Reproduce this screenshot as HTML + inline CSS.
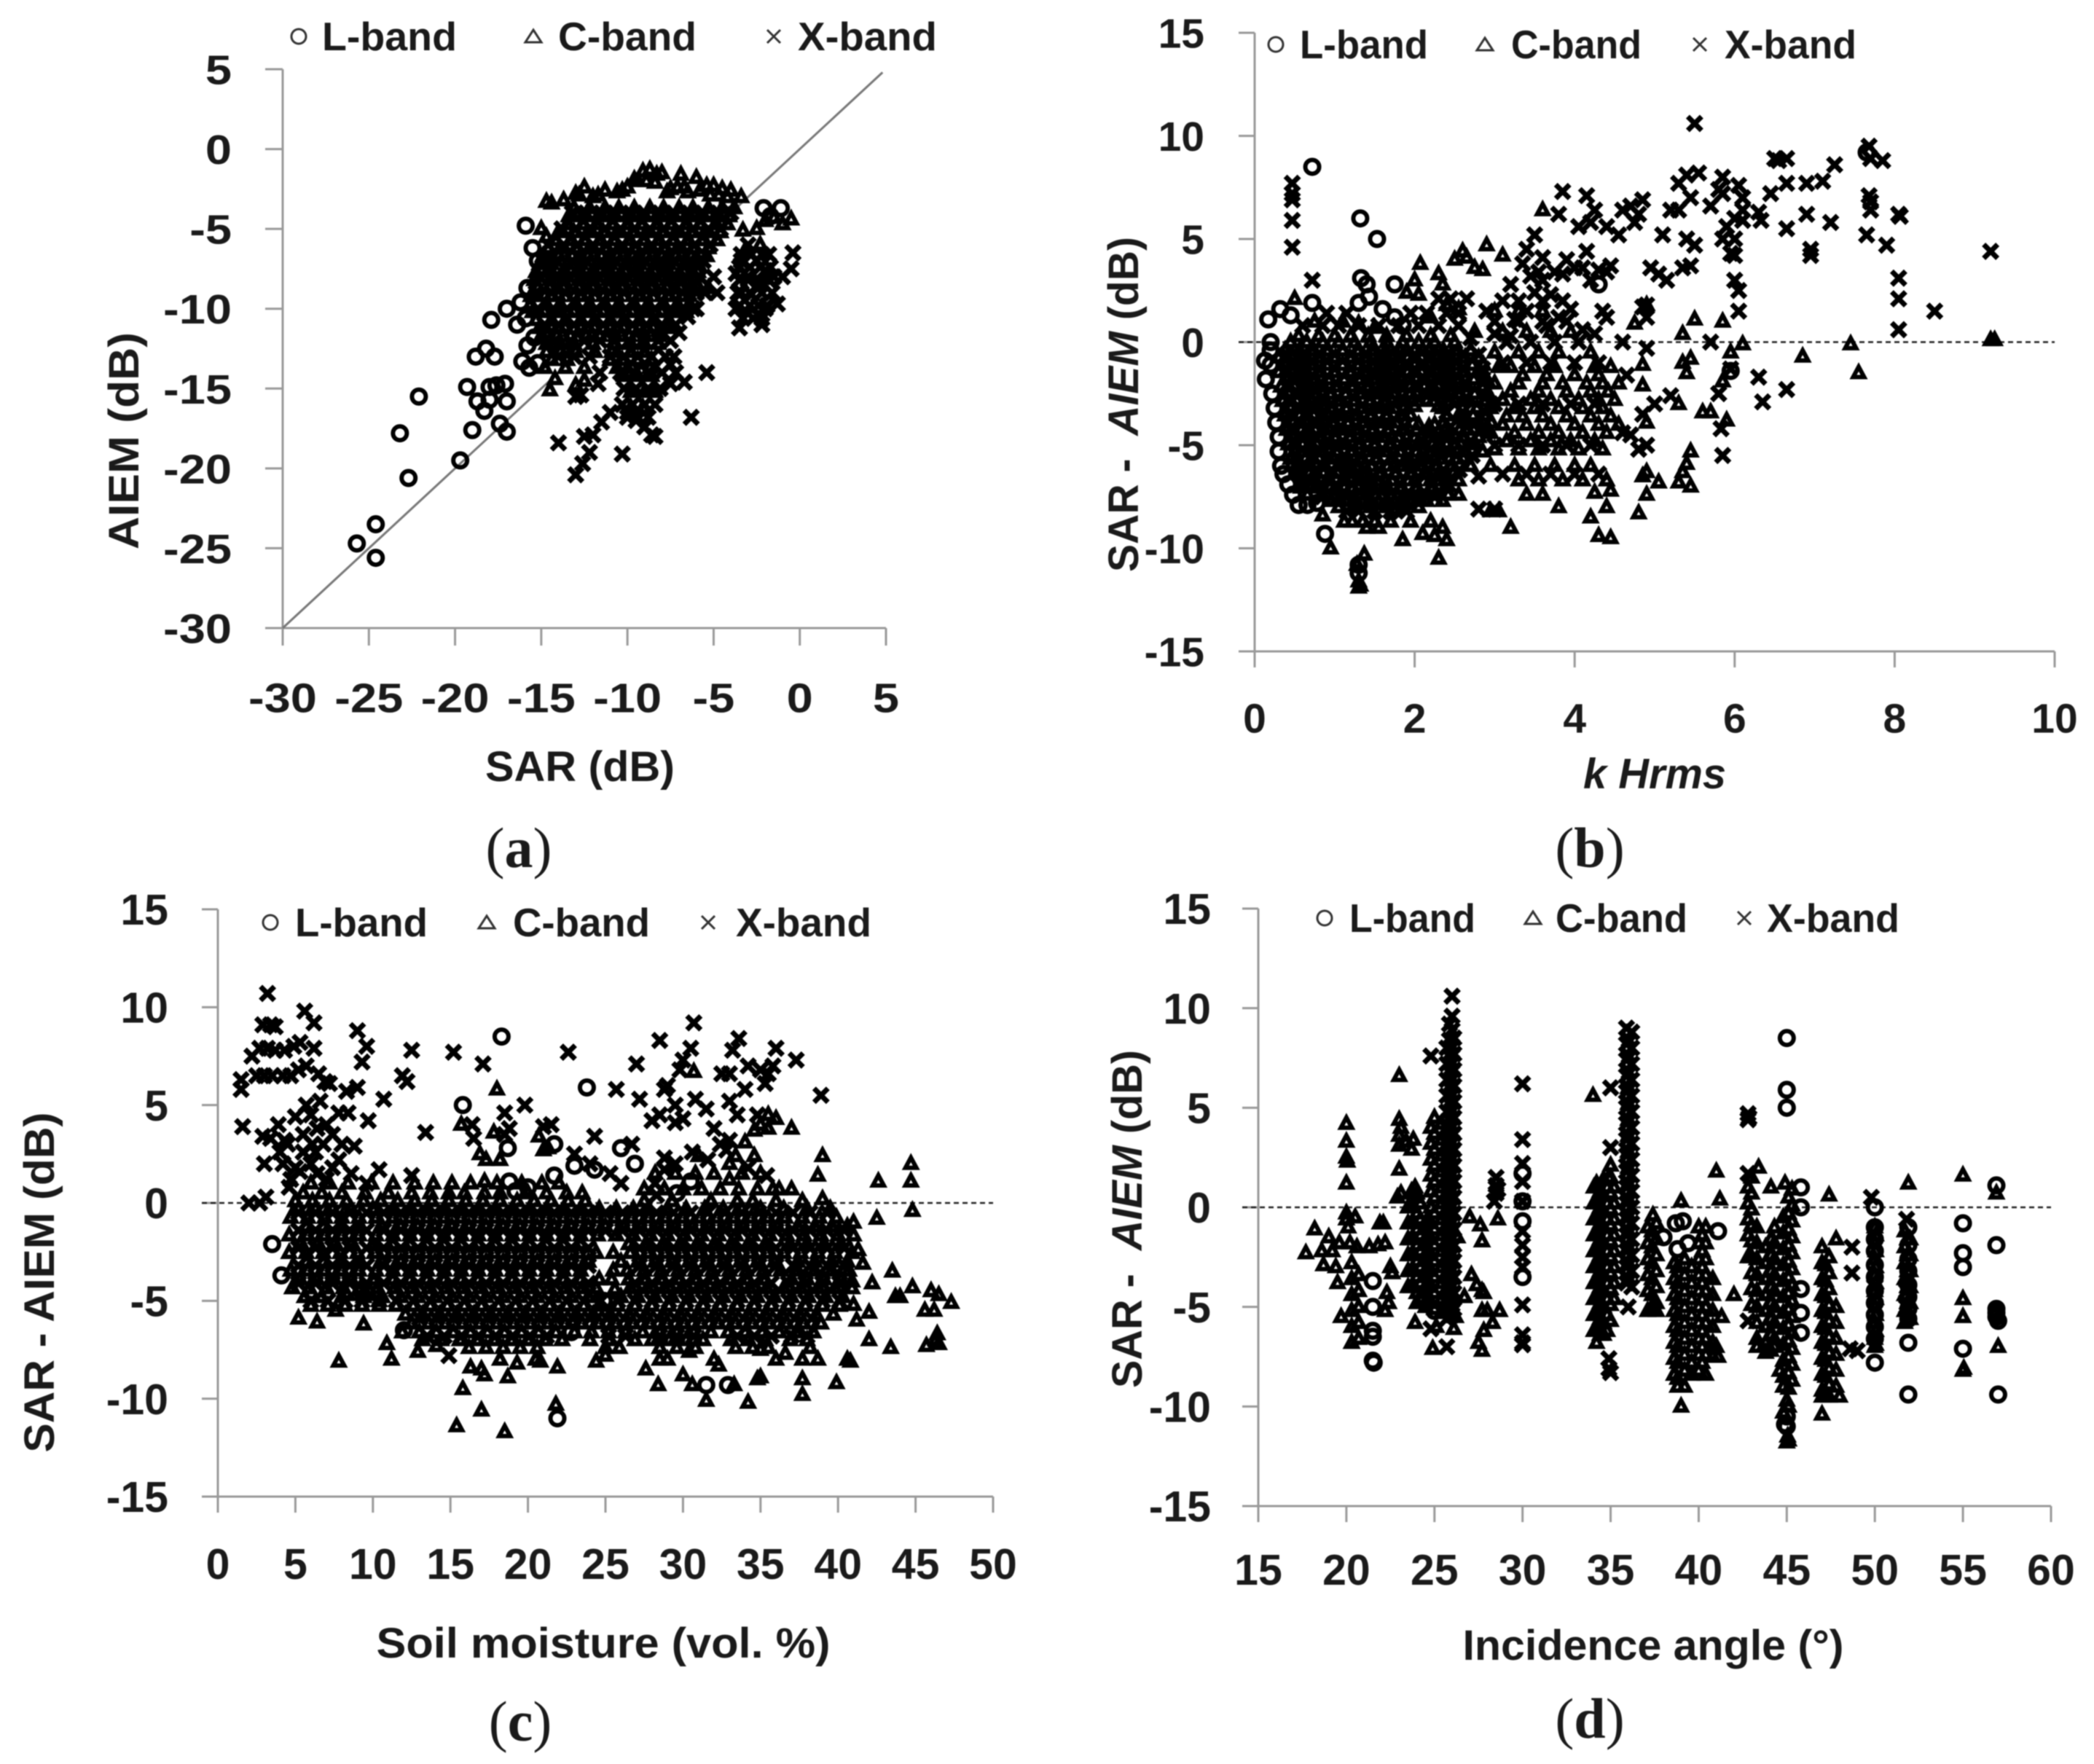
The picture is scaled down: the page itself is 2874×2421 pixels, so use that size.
<!DOCTYPE html>
<html lang="en">
<head>
<meta charset="utf-8">
<title>SAR vs AIEM scatter panels</title>
<style>
html,body{margin:0;padding:0;background:#fff;width:2874px;height:2421px;overflow:hidden}
svg{display:block;filter:blur(.8px)}
text{font-family:"Liberation Sans",sans-serif;fill:#1a1a1a;font-weight:bold}
.lg{font-size:55px}
.ti{font-size:58px}
.pl{font-family:"Liberation Serif",serif;font-size:78px;font-weight:normal}
.pl tspan.b{font-weight:bold}
.mk{fill:none;stroke:#333;stroke-width:3}
</style>
</head>
<body>
<svg id="figure" xmlns="http://www.w3.org/2000/svg" width="2874" height="2421" viewBox="0 0 2874 2421">
<rect width="2874" height="2421" fill="#fff"/>

<g id="panel-a">
  <circle class="mk" cx="410" cy="50" r="10"/>
  <text class="lg" x="442" y="69" textLength="185" lengthAdjust="spacingAndGlyphs">L-band</text>
  <path class="mk" d="M732 41L743 58H721Z"/>
  <text class="lg" x="766" y="69" textLength="190" lengthAdjust="spacingAndGlyphs">C-band</text>
  <path class="mk" d="M1053 41L1071 59M1071 41L1053 59"/>
  <text class="lg" x="1095" y="69" textLength="191" lengthAdjust="spacingAndGlyphs">X-band</text>
  <text class="ti" x="796" y="1072" text-anchor="middle" textLength="260" lengthAdjust="spacingAndGlyphs">SAR (dB)</text>
  <text class="ti" transform="translate(190,605) rotate(-90)" text-anchor="middle" textLength="298" lengthAdjust="spacingAndGlyphs">AIEM (dB)</text>
  <text class="pl" x="712" y="1190" text-anchor="middle">(<tspan class="b">a</tspan>)</text>
</g>

<g id="panel-b">
  <circle class="mk" cx="1751" cy="61" r="10"/>
  <text class="lg" x="1784" y="80" textLength="176" lengthAdjust="spacingAndGlyphs">L-band</text>
  <path class="mk" d="M2038 52L2049 69H2027Z"/>
  <text class="lg" x="2074" y="80" textLength="179" lengthAdjust="spacingAndGlyphs">C-band</text>
  <path class="mk" d="M2324 52L2342 70M2342 52L2324 70"/>
  <text class="lg" x="2367" y="80" textLength="181" lengthAdjust="spacingAndGlyphs">X-band</text>
  <text class="ti" x="2271" y="1082" text-anchor="middle" font-style="italic" textLength="196" lengthAdjust="spacingAndGlyphs">k Hrms</text>
  <text class="ti" transform="translate(1562,555) rotate(-90)" text-anchor="middle" textLength="460" lengthAdjust="spacingAndGlyphs" xml:space="preserve">SAR -  <tspan font-style="italic">AIEM</tspan> (dB)</text>
  <text class="pl" x="2182" y="1190" text-anchor="middle">(<tspan class="b">b</tspan>)</text>
</g>

<g id="panel-c">
  <circle class="mk" cx="371" cy="1266" r="10"/>
  <text class="lg" x="405" y="1285" textLength="182" lengthAdjust="spacingAndGlyphs">L-band</text>
  <path class="mk" d="M668 1257L679 1274H657Z"/>
  <text class="lg" x="704" y="1285" textLength="188" lengthAdjust="spacingAndGlyphs">C-band</text>
  <path class="mk" d="M963 1257L981 1275M981 1257L963 1275"/>
  <text class="lg" x="1010" y="1285" textLength="186" lengthAdjust="spacingAndGlyphs">X-band</text>
  <text class="ti" x="828" y="2275" text-anchor="middle" textLength="623" lengthAdjust="spacingAndGlyphs">Soil moisture (vol. %)</text>
  <text class="ti" transform="translate(74,1760) rotate(-90)" text-anchor="middle" textLength="467" lengthAdjust="spacingAndGlyphs">SAR - AIEM (dB)</text>
  <text class="pl" x="714" y="2389" text-anchor="middle">(<tspan class="b">c</tspan>)</text>
</g>

<g id="panel-d">
  <circle class="mk" cx="1818" cy="1260" r="10"/>
  <text class="lg" x="1852" y="1279" textLength="173" lengthAdjust="spacingAndGlyphs">L-band</text>
  <path class="mk" d="M2104 1251L2115 1268H2093Z"/>
  <text class="lg" x="2135" y="1279" textLength="181" lengthAdjust="spacingAndGlyphs">C-band</text>
  <path class="mk" d="M2385 1251L2403 1269M2403 1251L2385 1269"/>
  <text class="lg" x="2425" y="1279" textLength="182" lengthAdjust="spacingAndGlyphs">X-band</text>
  <text class="ti" x="2269" y="2278" text-anchor="middle" textLength="523" lengthAdjust="spacingAndGlyphs">Incidence angle (°)</text>
  <text class="ti" transform="translate(1567,1673) rotate(-90)" text-anchor="middle" textLength="464" lengthAdjust="spacingAndGlyphs" xml:space="preserve">SAR -  <tspan font-style="italic">AIEM</tspan> (dB)</text>
  <text class="pl" x="2182" y="2385" text-anchor="middle">(<tspan class="b">d</tspan>)</text>
</g>
</svg>

<script>
/* ---------- tick labels ---------- */
const aXTicks = [-30,-25,-20,-15,-10,-5,0,5];
const aYTicks = [-30,-25,-20,-15,-10,-5,0,5];
const bXTicks = [0,2,4,6,8,10];
const bYTicks = [-15,-10,-5,0,5,10,15];
const cXTicks = [0,5,10,15,20,25,30,35,40,45,50];
const cYTicks = [-15,-10,-5,0,5,10,15];
const dXTicks = [15,20,25,30,35,40,45,50,55,60];
const dYTicks = [-15,-10,-5,0,5,10,15];

/* ---------- panel a: [SAR, AIEM] ---------- */
const aLband = [[-25.7,-24.7],[-24.6,-23.5],[-24.6,-25.6],[-22.7,-20.6],[-23.2,-17.8],[-22.1,-15.5],[-19.7,-19.5],[-19,-17.6],[-19.3,-14.9],[-18.8,-13],[-18.2,-12.5],[-17.7,-13],[-18.7,-15.8],[-18.3,-16.4],[-18,-15.7],[-18,-14.9],[-17.6,-14.8],[-17.1,-14.7],[-17.4,-17.2],[-17,-17.7],[-17,-15.8],[-17.9,-10.7],[-17,-10],[-16.4,-11],[-15.9,-4.8],[-15.5,-6.2],[-15.2,-7],[-15.8,-8.7],[-16.1,-13.3],[-15.7,-13.7],[-15.8,-12.3],[-15.2,-13.4],[-2.1,-3.7],[-1.1,-3.7],[-1.7,-4.2],[-16.2,-9.6],[-15.9,-10.6],[-15.4,-11.8]];
const aCband = [[-14.7,-3.3],[-14.4,-3.4],[-13.7,-3.2],[-13,-2.8],[-12.5,-2.4],[-12,-3],[-11.3,-2.6],[-10.6,-2.7],[-10,-2.4],[-9.6,-1.9],[-9.1,-1.4],[-8.7,-1.3],[-8.3,-1.6],[-8,-1.5],[-7.5,-2.5],[-6.9,-1.6],[-6.5,-2.7],[-6,-1.8],[-5.4,-2.3],[-5,-2.3],[-4.5,-2.5],[-4,-2.6],[-3.4,-3],[-14.5,-15.1],[-14.2,-14.4],[-13,-14.8],[-12.5,-14.5],[-2,-4.5],[-1.5,-4.3],[-0.5,-4.4],[-1,-4.7],[-2.5,-5],[-2.3,-6],[-15,-5],[-14.7,-5.5],[-3.2,-6.4],[-3.3,-5.1],[-12.8,-2.9],[-11.7,-2.9],[-10.3,-2.6],[-9.4,-2],[-8.9,-2],[-8.4,-2.1],[-7.7,-2.7],[-7.1,-2.4],[-6.7,-2.4],[-5.8,-2.6],[-5.2,-2.9],[-4.7,-2.9],[-4.2,-3]];
const aCbandRows = [
[-3.7,-13.1,-12.2,-11.3,-10.5,-9.6,-8.7,-7.9,-7,-6.2,-5.3,-4.5,-3.8],
[-4.7,-13.5,-12.6,-11.8,-10.9,-10,-9.2,-8.3,-7.5,-6.6,-5.8,-4.9,-4.2],
[-5.7,-14.2,-13.3,-12.5,-11.6,-10.8,-9.9,-9,-8.2,-7.3,-6.5,-5.6,-4.8],
[-6.7,-14.9,-14,-13.2,-12.3,-11.5,-10.6,-9.7,-8.9,-8,-7.2,-6.3,-5.4],
[-7.7,-15.3,-14.4,-13.6,-12.7,-11.9,-11,-10.1,-9.3,-8.4,-7.6,-6.7,-5.9],
[-8.7,-15.2,-14.5,-13.7,-12.8,-12,-11.1,-10.3,-9.4,-8.6,-7.7,-6.9,-6.2,-5.3],
[-9.7,-15.6,-14.7,-13.9,-13,-12.2,-11.3,-10.5,-9.6,-8.8,-7.9,-7.1,-6.4],
[-10.7,-15.3,-14.4,-13.6,-12.7,-11.9,-11,-10.2,-9.3,-8.5,-7.6],
[-11.7,-15,-14.1,-13.3,-12.4,-11.6,-10.7,-9.9,-9,-8.2],
[-12.7,-14.7,-13.9,-13,-11.9,-10.9,-9.8,-9],
[-13.7,-14.8,-13.6,-12.5,-10.6,-9.7,-8.7],
[-4.2,-13.4,-12.6,-11.7,-10.9,-10,-9.2,-8.3,-7.5,-6.6,-5.8,-4.9,-4.1],
[-5.2,-14,-13.1,-12.3,-11.4,-10.6,-9.7,-8.9,-8,-7.2,-6.3,-5.5,-4.6],
[-6.2,-14.6,-13.9,-13,-12.2,-11.3,-10.5,-9.6,-8.8,-7.9,-7.1,-6.2,-5.3],
[-7.2,-15.1,-14.4,-13.5,-12.7,-11.8,-11,-10.1,-9.3,-8.4,-7.6,-6.7,-5.9],
[-8.2,-15.4,-14.5,-13.7,-12.8,-12,-11.1,-10.3,-9.4,-8.6,-7.7,-6.9,-6.1],
[-9.2,-15.6,-14.8,-14,-13.1,-12.3,-11.4,-10.6,-9.7,-8.9,-8,-7.2,-6.4],
[-10.2,-15.5,-14.8,-14,-13.1,-12.3,-11.4,-10.6,-9.7,-8.9,-8,-7.2,-6.6],
[-11.2,-15.1,-14.4,-13.6,-12.7,-11.9,-11,-10.2,-9.3,-8.5,-7.7],
[-12.2,-14.7,-13.9,-13.1,-12,-10.7,-9.8,-9,-8.2],
[-13.2,-14.4,-13.5,-11,-10.3,-9.4,-8.6],
[-14.2,-10.2,-9.4,-8.6],
[-15.2,-9.8,-9,-8.4],
[-16.2,-9.8,-9.1]];
const aXband = [[-0.4,-6.5],[-0.5,-7.5],[-1,-8],[-1.5,-8],[-1.3,-9.7],[-2,-10],[-2.2,-11],[-3,-10.3],[-3.5,-11.2],[-3.7,-10],[-3.6,-9],[-3,-8],[-2.5,-7],[-3.4,-7],[-2.3,-8.5],[-3.7,-7.8],[-2.8,-9.1],[-2,-7.6],[-1.8,-6.6],[-3,-6],[-5.4,-14],[-6.3,-16.8],[-10.3,-19.1],[-14,-18.4],[-13,-20.4],[-12.6,-19.7],[-12.2,-19],[-12.5,-18],[-12,-17.9],[-11.5,-17.1],[-11,-16.5],[-10,-16.5],[-9.5,-17],[-9,-17.4],[-8.6,-17.9],[-8.4,-18],[-7.5,-14.7],[-6.7,-14.6],[-7.5,-13.5],[-13,-15.5],[-12.7,-15.4],[-11.7,-14.7],[-7,-11.5],[-6.5,-10.5],[-6,-10],[-5.5,-9],[-4.8,-9],[-5,-8]];
const aXbandRows = [
[-4,-13.2,-12.4,-11.5,-10.7,-9.8,-9,-8.1,-7.3,-6.4,-5.6,-4.7,-4],
[-5,-13.8,-13,-12.1,-11.3,-10.4,-9.6,-8.7,-7.9,-7,-6.2,-5.3,-4.6],
[-6,-14.6,-13.7,-12.9,-12,-11.2,-10.3,-9.5,-8.6,-7.8,-6.9,-6.1,-5.2],
[-7,-14.9,-14.1,-13.2,-12.4,-11.5,-10.7,-9.8,-9,-8.1,-7.3,-6.4,-5.6],
[-8,-15.1,-14.2,-13.4,-12.5,-11.7,-10.8,-10,-9.1,-8.3,-7.4,-6.6,-5.8],
[-9,-15.3,-14.4,-13.6,-12.7,-11.9,-11,-10.2,-9.3,-8.5,-7.6,-6.8,-6],
[-10,-15.2,-14.3,-13.5,-12.6,-11.8,-10.9,-10.1,-9.2,-8.4,-7.5,-6.7,-6.2],
[-11,-14.8,-14,-13.1,-12.3,-11.4,-10.6,-9.7,-8.9,-8,-7.2],
[-12,-14.2,-13.3,-12.5,-11.6,-10.8,-9.9,-9.1,-8.2,-7.5],
[-13,-14,-13.1,-12.2,-11,-10.2,-9.4,-8.6,-7.8,-7.3],
[-14,-11.6,-10.4,-9.6,-8.8,-8,-7.2],
[-15,-10.2,-9.5,-8.8,-8.1],
[-16,-10.3,-9.7,-9,-8.4],
[-16.8,-10,-9.4,-8.8],
[-6.6,-3.4,-2.8,-2.2],
[-7.4,-3.5,-2.9,-2.3,-1.7],
[-8.2,-3.5,-3,-2.4,-1.8],
[-9,-3.4,-2.9,-2.2,-1.6],
[-9.8,-3.5,-2.9,-2.4,-1.9],
[-10.6,-3.3,-2.7,-2.2]];

/* ---------- panel b: [k Hrms, SAR-AIEM] ---------- */
const bLband = [[0.17,1.1],[0.32,1.6],[0.13,-0.9],[0.14,-1.8],[0.72,8.5],[1.32,6],[1.53,5],[1.75,2.8],[1.33,3.1],[1.4,2.8],[1.3,1.9],[1.43,2.2],[1.6,1.6],[0.72,1.9],[0.45,1.3],[0.2,0],[0.88,-9.3],[1.3,-10.8],[1.3,-11.2],[1.75,1.2],[1.85,0.8],[4.3,2.8],[5.95,-1.4],[7.65,9.2],[0.2,-0.4],[0.2,-1.1],[0.22,-2.5],[0.25,-3.2],[0.27,-3.9],[0.3,-4.6],[0.3,-5.3],[0.33,-6],[0.36,-6.4],[0.42,-6.9],[0.48,-7.4],[0.55,-7.9],[0.66,-7.9],[0.78,-7.8]];
const bCband = [[0.5,2.1],[2.07,3.8],[2,3],[2.05,2.3],[1.9,2.4],[2.3,3.3],[2.35,2.8],[2.6,4.4],[2.65,4.1],[2.5,4],[2.75,3.6],[2.85,3.5],[2.9,4.7],[3.1,4.2],[3.6,6.4],[0.75,1],[0.95,-10],[0.85,-8.4],[1.37,-10.3],[1.28,-10.8],[1.3,-11.9],[1.32,-11.8],[1.3,-11.6],[1.4,-9],[1.55,-9],[1.85,-9.6],[1.75,-8.2],[2.1,-9.3],[2.3,-10.5],[2.25,-9.4],[2.4,-9.6],[2.35,-9],[3.2,-9],[2.95,-8.2],[3.05,-8.2],[3.8,-8],[4.2,-8.5],[4.3,-9.4],[4.45,-9.5],[4.4,-8],[4.8,-8.3],[4.9,-7.4],[4.45,-7.2],[4.25,-7.3],[4.85,-6.5],[4.9,-6.3],[5.35,-6.3],[5.4,-5.9],[5.3,-6.8],[5.45,-7],[5.05,-6.8],[5.45,-5.3],[5.3,-3],[5.6,-3.4],[5.7,-3.4],[5.9,-3.8],[4.9,-3.9],[4.85,-2.1],[4.85,-1.1],[5.35,-1],[5.4,-1.5],[5.45,-0.8],[5.5,1.1],[5.35,0.4],[5.85,1],[4.9,1.8],[4.75,0.9],[6.1,-0.1],[5.95,-0.5],[5.85,-1.9],[7.45,-0.1],[7.55,-1.5],[6.85,-0.7],[9.2,0.1],[9.25,0.1],[2.4,1.8],[2.55,1.6],[2.2,1.2],[1.1,1],[1.3,0.9],[1.5,0.7],[2,-3.1],[2.25,-4],[2.18,-4.1],[2.3,-3.1],[2.05,-4]];
const bCbandRows = [
[0.3,.55,.8,1,1.2,1.42,1.65,1.9,2.2,2.45],
[-0.4,.38,.56,.74,.92,1.1,1.28,1.46,1.64,1.82,2,2.18,2.36,2.54,2.7],
[-1.1,.38,.56,.74,.92,1.1,1.28,1.46,1.64,1.82,2,2.18,2.36,2.54,2.72,2.86],
[-1.8,.4,.58,.76,.94,1.12,1.3,1.48,1.66,1.84,2.02,2.2,2.38,2.56,2.74,2.9],
[-2.5,.43,.6,.78,.96,1.13,1.31,1.49,1.67,1.85,2.03,2.21,2.39,2.57,2.75,2.92],
[-3.2,.45,.62,.8,.98,1.14,1.32,1.5,1.68,1.86,2.35,2.6,2.78,2.95],
[-3.9,.48,.65,.82,1,1.16,1.34,1.52,1.7,1.88,2.36,2.62,2.8,2.96],
[-4.6,.48,.66,.84,1.02,1.18,1.36,1.54,1.72,1.9,2.08,2.26,2.44,2.62,2.8],
[-5.3,.5,.68,.86,1.04,1.2,1.38,1.56,1.74,1.92,2.1,2.28,2.46,2.64,2.85],
[-6,.52,.7,.88,1.05,1.2,1.38,1.56,1.74,1.92,2.1,2.28,2.46,2.7],
[-6.7,.58,.76,.94,1.1,1.28,1.46,1.64,1.82,2,2.2,2.38,2.55],
[-7.4,.66,.84,1.02,1.15,1.33,1.51,1.69,1.87,2.05,2.25,2.42,2.55],
[-8,1.05,1.25,1.45,1.65,1.85,2.05],
[-8.7,1.12,1.22,1.35,1.5,1.7,1.95,2.2],
[0,.45,.65,.85,1.05,1.25,1.45,1.65,1.85,2.05,2.25,2.5],
[-0.75,.3,.47,.65,.83,1.01,1.19,1.37,1.55,1.73,1.91,2.09,2.27,2.45,2.63,2.8],
[-1.45,.3,.47,.65,.83,1.01,1.19,1.37,1.55,1.73,1.91,2.09,2.27,2.45,2.63,2.8],
[-2.15,.33,.5,.68,.86,1.04,1.22,1.4,1.58,1.76,1.94,2.12,2.3,2.48,2.66,2.84],
[-2.85,.35,.53,.71,.89,1.07,1.25,1.43,1.61,1.79,1.97,2.15,2.33,2.51,2.69,2.87],
[-3.55,.38,.56,.74,.92,1.1,1.28,1.46,1.64,1.82,1.95,2.4,2.55,2.73,2.9],
[-4.25,.4,.58,.76,.94,1.12,1.3,1.48,1.66,1.84,2.02,2.2,2.38,2.56,2.74,2.9],
[-4.95,.42,.6,.78,.96,1.14,1.32,1.5,1.68,1.86,2.04,2.22,2.4,2.58,2.76],
[-5.65,.45,.63,.81,.99,1.17,1.35,1.53,1.71,1.89,2.07,2.25,2.43,2.61],
[-6.35,.5,.68,.86,1.04,1.22,1.4,1.58,1.76,1.94,2.12,2.3,2.48],
[-7.05,.58,.76,.94,1.12,1.3,1.48,1.66,1.84,2.02,2.2,2.38],
[-7.7,.95,1.15,1.35,1.55,1.75,1.95,2.15,2.35],
[1.5,3,3.3,3.6],[0.5,2.75,3.1,3.4,3.7,3.95],[-0.5,3,3.3,3.55,3.8,4.2],[-1.2,3.05,3.2,3.5,3.75,4.25,4.45],[-2,3,3.3,3.6,3.85,4.15,4.35,4.55],[-2.8,3.1,3.45,3.7,4.05,4.3,4.5],[-3.6,3.15,3.35,3.6,3.9,4.2,4.45],[-4.4,2.95,3.25,3.55,3.8,4.1,4.4],[-5.2,3,3.3,3.55,3.8,4.05,4.35],[-6,2.95,3.25,3.5,3.75,4,4.2],[-6.7,3.3,3.55,3.85,4.1,4.4],[-7.4,3.4,3.6],
[-1.6,3.35,3.65,4,4.3],[-2.4,3.2,3.55,3.9,4.2,4.42],[-3.2,3.25,3.5,3.8,4.1,4.35],[-4,3.1,3.4,3.7,4,4.3,4.55],[-4.8,3.15,3.45,3.7,3.95,4.25]];
const bXband = [[0.47,7.7],[0.47,7.2],[0.47,6.9],[0.47,5.9],[0.47,4.6],[0.72,3],[5.5,10.6],[7.68,9.5],[7.7,8.9],[7.85,8.8],[7.68,7.1],[7.7,6.8],[7.7,6.4],[7.65,5.2],[7.9,4.7],[7.2,5.8],[7.25,8.6],[7.1,7.8],[6.9,7.7],[6.65,7.7],[6.5,8.9],[6.55,8.8],[6.65,8.9],[6.45,7.2],[6.65,5.5],[6.9,6.2],[6.95,4.5],[6.95,4.2],[8.05,6.2],[8.07,6.1],[8.05,3.1],[8.05,2.1],[8.05,0.6],[8.5,1.5],[9.2,4.4],[6.3,6.3],[6.33,5.9],[6.3,-1.7],[6.35,-2.9],[6.65,-2.3],[6.1,7],[2.55,1.4],[2.9,1.5],[3.1,2],[3.2,2.8],[3.35,3.8],[3.4,4.5],[3.5,5.2],[3.6,4.1],[3.7,2.3],[3.85,7.3],[3.8,6.2],[3.9,4],[4,3.6],[3.85,3.3],[4.15,7.1],[4.05,5.6],[4.25,6.4],[4.2,5.8],[4.4,5.6],[4.15,4.4],[4.1,3.6],[4.3,3.5],[4.4,3.4],[4.45,3.7],[4.35,1.5],[4.4,1.2],[4.1,0.6],[4.25,0.4],[4.55,5.2],[4.6,6.4],[4.7,6.6],[4.75,5.8],[4.85,6.9],[4.8,6.2],[4.85,1.7],[4.9,1.8],[4.9,1.2],[4.9,-0.3],[4.6,0],[4.95,3.6],[5.05,3.3],[5.15,3],[5.1,5.2],[5.2,6.4],[5.3,6.4],[5.35,3.6],[5.45,3.7],[5.4,5],[5.5,4.7],[5.3,7.7],[5.4,8.1],[5.55,8.2],[5.45,7],[5.7,6.6],[5.8,7.4],[5.85,8],[5.85,7.2],[5.9,5.6],[5.85,5],[5.95,4.3],[6.05,7.6],[6.1,6.4],[6,6],[6,5],[6,4.2],[6,3],[6.05,2.5],[6.05,1.5],[6.1,5.9],[5.8,-2.5],[5.83,-4.2],[5.85,-5.5],[5.95,-1.3],[5.7,0],[5.2,-2.6],[5,-3],[4.85,-3.5],[4.9,-5],[4.8,-5.2],[4.7,-4.5],[4.6,-4.4],[4.65,-1.6],[3,-8.1],[2.8,-8.1],[2.8,-6.5],[2.95,-3],[3.4,1.5],[3.65,0.8],[3.95,1.6],[2.7,0.2],[3,0.4],[3.25,1.1],[3.5,2.4],[3.8,1.2],[3.6,3],[4.2,3],[3.45,3.2],[3.2,0.3]];
const bXbandRows = [
[-0.6,.4,.6,.8,1,1.2,1.4,1.6,1.8,2,2.2,2.4,2.6,2.8],
[-1.3,.4,.6,.8,1,1.2,1.4,1.6,1.8,2,2.2,2.4,2.6,2.85],
[-2,.42,.62,.82,1.02,1.22,1.42,1.62,1.82,2.02,2.22,2.42,2.62,2.85],
[-2.7,.44,.64,.84,1.04,1.24,1.44,1.64,1.84,2.04,2.24,2.44,2.64,2.88],
[-3.4,.45,.65,.85,1.05,1.25,1.45,1.65,1.85,2.4,2.6,2.88],
[-4.1,.47,.67,.87,1.07,1.27,1.47,1.67,1.87,2.45,2.65,2.85],
[-4.8,.5,.7,.9,1.1,1.3,1.5,1.7,1.9,2.1,2.3,2.5,2.7],
[-5.5,.52,.72,.92,1.12,1.32,1.52,1.72,1.92,2.12,2.32,2.52,2.72],
[-6.2,.56,.76,.96,1.16,1.36,1.56,1.76,1.96,2.16,2.36,2.56],
[-6.9,.62,.82,1.02,1.22,1.42,1.62,1.82,2.02,2.22,2.42],
[-7.5,.85,1.05,1.25,1.45,1.65,1.85,2.05,2.25],
[-8.2,1.15,1.3,1.5,1.7,1.9],
[.8,.6,.85,1.05,1.3,1.55,1.8,2.05,2.3,2.55],
[1.4,.9,1.15,1.95,2.15,2.4],
[2.1,2.3,2.45,2.65],
[1,3,3.3,3.6,3.9],
[0,3.15,3.45,3.75,4.05],
[2,3.3,3.6,3.85],
[3.4,3.55,3.75],
[-1,3.1,3.4,3.7,4,4.3],
[-3,3,3.3,3.6,3.95,4.25],
[-5,3,3.3,3.6,3.9,4.2],
[-6.4,3.1,3.4,3.7,4,4.3]];

/* ---------- panel c: [soil moisture, SAR-AIEM] ---------- */
const cLband = [[18.3,8.5],[23.8,5.9],[15.8,5],[26,2.8],[26.9,2],[18.7,2.8],[18.8,1.1],[19.2,0.6],[21.7,1.4],[21.7,3],[30.5,1.1],[3.5,-2.1],[4.1,-3.7],[7.9,-4],[21.9,-11],[31.5,-9.3],[32.9,-9.3],[12,-6.5],[24.9,-5],[22.8,-6.6],[23,1.9],[24.3,1.7],[20,0.8],[29.6,0.5]];
const cCband = [[18,5.8],[15.7,4],[17.8,3.6],[16.9,2.5],[17.3,2.2],[18.2,2.2],[17.2,1.1],[20.7,3.4],[21,2.7],[21.3,2.8],[30.7,6.7],[35.5,4.5],[36,4.3],[37,3.8],[34,3.1],[34.6,3.7],[35,4],[35.5,3.8],[33,2],[33,1.2],[32,1.5],[39,2.4],[38.7,1.4],[39,0.2],[42.6,1.1],[44.7,2],[44.7,1.1],[44.8,-0.4],[42.5,-0.8],[35.8,0.7],[37,0.7],[43.5,-3.5],[44.8,-4.3],[46,-4.5],[46.5,-4.7],[47.3,-5.1],[45.6,-5.5],[46.2,-5.5],[45.7,-7.3],[46.3,-7],[46.4,-6.7],[46.5,-7.2],[44,-4.8],[43.7,-4.8],[42.2,-4.1],[42,-5.6],[42,-7],[43.4,-7.4],[40.6,-8],[40.8,-8.1],[39.9,-9.2],[38.7,-8],[37.7,-9],[37.7,-9.8],[37.7,-8],[36.6,-7.7],[36,-8],[35,-8.9],[34.8,-9],[34.2,-10.2],[33.3,-9.3],[32.3,-8.3],[31.5,-10.1],[30.6,-9.3],[30,-8.8],[28.4,-9.3],[27.6,-8.5],[28.5,-8],[30.4,-7.6],[29,-8],[32,-8],[35,-7.5],[21.8,-10.3],[21.9,-8.4],[18.5,-11.7],[17,-10.6],[15.4,-11.4],[15.8,-9.5],[16.3,-8.4],[17,-8.5],[17.2,-8.8],[18.7,-8.9],[19.3,-8.2],[18.2,-8],[20.5,-8],[20.8,-8.1],[24.4,-8.1],[25,-7.8],[7.8,-8.1],[5.2,-5.9],[6.4,-6.1],[7.6,-5.5],[8.9,-4.7],[9.6,-4.7],[9.4,-6.2],[10.4,-5],[10.9,-7.2],[11.2,-8],[12.9,-7.6],[14.1,-7.3],[41,-1],[41.3,-2.4],[41.6,-3.1],[40.9,-4],[41,-5.2],[41.2,-6],[24.6,-3.9],[25.4,-3.9],[25.6,-4.4],[25.5,-3.45],[25.5,-2.55]];
const cCbandRows = [
[2.4,31,33.4,34.6],
[1.5,28.2,29.5,30.8,33.8,35],
[0.7,27.5,28.8,30,31.2,32.4,33.6,34.8,36.2],
[1,6,7.2,8.4,9.9,11.3,12.7,13.9,15.1,16.3,18,19.6,20.9,22],
[0.5,5.5,6.7,8,9.5,11,12.5,13.7,14.9,15.9,17.2,18.2,20,21.2,22.5,23.5],
[-0.3,5.2,6.3,7.4,8.6,10,11.3,12.4,13.5,14.6,15.7,16.8,17.9,19,20.1,21.2,22.3,23.4,24.6,25.7,26.8,27.8,29,30.2,31.4,32.6,33.8,35,36.5,38,39.5],
[-1.2,5.7,6.8,8,9.2,10.6,11.8,12.9,14,15.1,16.2,17.3,18.4,19.5,20.6,21.7,22.8,23.9,25,26.2,27.3,28.4,29.5,30.6,31.7,32.8,33.9,35,36.1,37.4,38.5,39.6,40.6],
[-2.1,5.3,6.4,7.5,8.6,10,11.3,12.4,13.5,14.6,15.7,16.8,17.9,19,20.1,21.2,22.3,23.4,26.5,27.6,28.7,29.8,30.9,32,33.1,34.2,35.3,36.9,38,39.1,40.2],
[-3,5.7,6.8,8,9.2,10.6,11.8,12.9,14,15.1,16.2,17.3,18.4,19.5,20.6,21.7,22.8,23.9,26,27.1,28.2,29.3,30.4,31.5,32.6,33.7,34.8,35.9,37.4,38.5,39.6,40.6],
[-3.9,5.3,6.4,7.5,8.6,10,11.3,12.4,13.5,14.6,15.7,16.8,17.9,19,20.1,21.2,22.3,23.4,26.5,27.6,28.7,29.8,30.9,32,33.1,34.2,35.3,37,38,39.1,40.2],
[-4.8,5.6,6.7,8,9.4,10.6,11.8,12.9,14,15.1,16.2,17.3,18.4,19.5,20.6,21.7,22.8,23.9,26,27.1,28.2,29.3,30.4,31.5,32.6,33.7,34.8,35.9,37,38.1,39.2,40.3],
[-5.7,12.1,13.2,14.3,15.4,16.5,17.6,18.7,19.8,20.9,22,23.1,24.2,25.3,26.5,27.6,28.7,29.8,30.9,32,33.1,34.2,35.3,36.4,37.5,38.6,39.7],
[-6.6,11.9,13,14.1,15.2,16.3,17.4,18.5,19.6,20.7,21.8,23,24.1,25.2,26.3,27.4,28.5,29.6,30.7,31.8,32.9,34,35.1,36.2,37.3,38.4],
[-7.4,16.2,17.3,18.4,19.5,20.6,25,25.9,28.5,29.6,30.8,33.4,34.5,35.5,38.2],
[0.1,5,6.1,7.2,8.3,9.4,10.5,11.6,12.7,13.8,14.9,16,17.1,18.2,19.3,20.4,21.5,22.6,23.7,27.5,29.3,31.8,33.5,34.5,36,37.7],
[-0.75,4.7,5.8,6.9,8,9.1,10.2,11.3,12.4,13.5,14.6,15.7,16.8,17.9,19,20.1,21.2,22.3,23.4,24.5,25.6,26.7,27.8,28.9,30,31.1,32.2,33.3,34.4,35.5,36.6,37.7,38.8,39.9],
[-1.65,4.6,5.8,6.9,8,9.1,10.2,11.3,12.4,13.5,14.6,15.7,16.8,17.9,19,20.1,21.2,22.3,23.4,24.5,25.7,26.8,27.9,29,30.1,31.2,32.3,33.4,34.5,35.6,36.7,37.8,38.9,40,41],
[-2.55,4.6,5.7,6.8,7.9,9,10.1,11.2,12.3,13.4,14.5,15.6,16.7,17.8,18.9,20,21.1,22.2,23.3,24.4,26.6,27.7,28.8,29.9,31,32.1,33.2,34.3,35.4,36.5,37.6,38.7,39.8,40.9],
[-3.45,4.7,5.8,6.9,8,9.1,10.2,11.3,12.4,13.5,14.6,15.7,16.8,17.9,19,20.1,21.2,22.3,23.4,26.4,27.5,28.6,29.7,30.8,31.9,33,34.1,35.2,36.3,37.4,38.5,39.6,40.7],
[-4.35,4.8,5.9,7,8.1,9.2,10.3,11.4,12.5,13.6,14.7,15.8,16.9,18,19.1,20.2,21.3,22.4,23.5,24.4,26.6,27.7,28.8,29.9,31,32.1,33.2,34.3,35.4,36.5,37.6,38.7,39.8,40.9],
[-5.25,6,7.1,8.2,9.3,10.4,11.5,12.6,13.7,14.8,15.9,17,18.1,19.2,20.3,21.4,22.5,23.6,24.7,25.8,26.9,28,29.1,30.2,31.3,32.4,33.5,34.6,35.7,36.8,37.9,39,40.1],
[-6.15,12.5,13.6,14.7,15.8,16.9,18,19.1,20.2,21.3,22.4,23.5,24.6,25.7,26.8,27.9,29,30.1,31.2,32.3,33.4,34.5,35.6,36.7,37.8,38.9],
[-7,13.2,14.4,15.6,16.7,17.8,18.9,20,21.1,22.2,24,25.3,26.9,28,29.1,30.2,31.3,33.1,34.2,35.3,36.9,38]];
const cXband = [[3.2,10.7],[5.6,9.8],[6.2,9.2],[9,8.8],[9.6,8],[12.5,7.8],[15.2,7.7],[17.1,7.1],[22.6,7.7],[25.7,5.8],[27,7.1],[28.5,8.3],[30.7,9.2],[33.6,8.4],[36,7.9],[37.3,7.3],[38.9,5.5],[19.8,5],[18.5,4.6],[13.4,3.6],[10.7,5.3],[11.9,6.5],[12.2,6.2],[9,5.9],[8.3,5.7],[8.4,4.6],[9.7,4.2],[9.3,7.2],[2.9,9.1],[3.4,9.1],[3.7,9],[2.2,7.5],[2.7,7.9],[3.2,7.9],[3.7,7.8],[4.3,7.8],[4.9,8],[5.3,8.2],[1.5,6.3],[1.5,5.8],[2.5,6.5],[3,6.5],[3.5,6.5],[4.2,6.5],[4.7,6.5],[5.2,6.8],[5.7,7],[1.6,3.9],[2.9,3.4],[3.4,3.3],[3.9,4],[4.3,3.2],[4,2.6],[3,2],[3.1,0.3],[2,0],[2.7,0],[6.9,6.2],[6.5,6.6],[6.2,7.9],[7.2,6.1],[5.7,5],[6,4.5],[7,4],[7.4,3.5],[8,3],[8.8,2.9],[5.5,3.5],[6.1,3],[4.6,0.8],[28,4.2],[28.5,4.5],[29,6],[28.8,5.8],[29.5,5],[29.8,6.8],[30,7.3],[30.5,7.9],[30.8,5.3],[30,4.3],[29.5,4.1],[31.5,4.8],[32,3.8],[32.5,6.6],[33,6.6],[33.2,7.8],[33,5.2],[33.5,4.5],[34,5.8],[34.2,7],[35,6.8],[35.3,6.1],[35.5,6.6],[35.8,7],[34.8,4.5],[33,3.2],[32.8,2.7],[28.8,2.3],[28.8,1.7],[28.3,0.4],[27.2,5.3],[26.7,3],[24.3,3.4],[23,2.5],[24,2],[21.5,4],[21,3.9],[26,1],[25.3,1.5],[18.5,3.5],[18.8,3.8],[16.4,4],[16.5,3.3],[14.9,-7.8],[6,2],[7,1.2],[6.4,1.5],[10.4,1.7],[12.5,1.4],[5,1.8],[4.5,3],[5.5,2.6],[6.8,3],[7.8,2.2],[4.2,2],[5.3,1.6],[6.3,2.6],[7.4,1.8],[8.6,1.5],[9.6,1],[7.8,4.6],[6.6,5.2],[6.4,3.8],[5,4.4],[4.7,1.2],[28.2,1],[29.5,2],[30.6,2.6],[31.6,2.2],[32.4,3],[34.2,1.8],[35.4,1.4]];
const cXbandRows = [
[-0.5,5.2,6.3,7.4,8.5,9.6,10.7,11.8,12.9,14,15.1,16.2,17.3,18.4,19.5,20.6,21.7,22.8,23.9,25,26.1,27.2,28.3,29.4,30.5,31.6,32.7,33.8,34.9,36,37.1,38.2,39.3],
[-1.4,5.2,6.3,7.4,8.5,9.6,10.7,11.8,12.9,14,15.1,16.2,17.3,18.4,19.5,20.6,21.7,22.8,23.9,25,26.1,27.2,28.3,29.4,30.5,31.6,32.7,33.8,34.9,36,37.1,38.2,39.3,40.4],
[-2.3,5.2,6.3,7.4,8.5,9.6,10.7,11.8,12.9,14,15.1,16.2,17.3,18.4,19.5,20.6,21.7,22.8,23.9,27.2,28.3,29.4,30.5,31.6,32.7,33.8,34.9,36,37.1,38.2,39.3,40.4],
[-3.2,5.2,6.3,7.4,8.5,9.6,10.7,11.8,12.9,14,15.1,16.2,17.3,18.4,19.5,20.6,21.7,22.8,23.9,27.2,28.3,29.4,30.5,31.6,32.7,33.8,34.9,36,37.1,38.2,39.3,40.4],
[-4.1,5.2,6.3,7.4,8.5,9.6,10.7,11.8,12.9,14,15.1,16.2,17.3,18.4,19.5,20.6,21.7,22.8,23.9,26.9,28,29.1,30.2,31.3,32.4,33.5,34.6,35.7,36.8,37.9,39,40.1],
[-5,6,7.1,8.2,9.3,10.4,11.5,12.6,13.7,14.8,15.9,17,18.1,19.2,20.3,21.4,22.5,23.6,24.7,25.8,26.9,28,29.1,30.2,31.3,32.4,33.5,34.6,35.7,36.8,37.9,39,40.1],
[-5.9,13,14.1,15.2,16.3,17.4,18.5,19.6,20.7,21.8,22.9,24,25.1,26.2,27.3,28.4,29.5,30.6,31.7,32.8,33.9,35,36.1,37.2,38.3],
[-6.8,13.5,14.6,15.7,16.8,17.9,19,20.1,21.2,25.2,26.3,28.5,29.6,30.7,33.5,34.6,35.7,37,38]];

/* ---------- panel d: [incidence angle, SAR-AIEM] ---------- */
const dLband = [[45,8.5],[45,5.9],[45,5],[45.8,1],[45.8,0],[45.8,-4.1],[45.8,-5.3],[45.8,-6.3],[21.5,-3.7],[21.5,-5],[21.5,-6.2],[21.5,-6.5],[21.5,-7.7],[21.55,-7.8],[25,-5.2],[30,1.7],[30,0.3],[30,-0.7],[30,-3.5],[38,-1.5],[38.7,-0.8],[39.1,-0.7],[38.8,-2.1],[39.4,-1.8],[41.1,-1.2],[50,0],[50,-1],[50,-7.8],[51.9,-1],[51.9,-1.9],[51.9,-6.8],[51.9,-9.4],[55,-0.8],[55,-2.3],[55,-3],[55,-7.1],[56.9,1.1],[56.9,-1.9],[56.9,-5.1],[56.9,-5.3],[56.9,-5.5],[57,-5.7],[57,-9.4],[45,-10.5],[45,-11],[44.9,-10.9]];
const dLbandCols = [
[50,-1.6,-2.2,-2.9,-3.5,-4.2,-4.8,-5.4,-6,-6.6],
[51.9,-2.6,-3.2,-3.9,-4.5,-5.1,-5.6]];
const dCband = [[17.7,-2.3],[18.2,-1.1],[18.6,-2.2],[18.7,-2.9],[19,-1.5],[19.2,-2.2],[19.4,-3],[19.5,-3.8],[19.6,-1.8],[19.7,-5.5],[20,4.2],[20,3.3],[20,2.5],[20.05,2.3],[20,1.2],[20,-0.3],[20,-0.6],[20.1,-1],[20.5,-0.5],[20.2,-1.8],[20.6,-2],[21.3,-2],[21.9,-0.8],[22.1,-0.8],[22.2,-1.8],[21.8,-1.9],[23,6.6],[23,4.4],[23.1,4],[23,3.6],[23,3.1],[23.4,3.3],[23.8,3.4],[23.7,2.9],[23,1.9],[22.9,0.5],[23.1,0.7],[23.9,1],[24,0.7],[23.9,-5.8],[24.9,-7.1],[25.1,-6],[27,-0.5],[27.6,-0.9],[27.7,-1.7],[28.6,-0.6],[27.1,-3.4],[27.4,-3.9],[27.7,-4.2],[27.8,-4.3],[27.7,-5.2],[28,-5.2],[28.7,-5.2],[28.3,-5.8],[27.8,-6.2],[27.5,-6.8],[27.7,-7.2],[26.7,-4.5],[22.5,-3],[22.6,-3.3],[22.3,-4.3],[22.4,-4.8],[22.2,-5.2],[26.2,-5.5],[26.1,-6.1],[26.3,-1.5],[34,5.6],[35,2.1],[34.9,1.5],[37.4,-0.4],[39,0.3],[41,1.8],[41.2,0.4],[42,-4.4],[43.4,2],[43,1.5],[44.1,1],[44.9,1.2],[47.4,0.6],[47.8,-1.6],[44.6,-8.2],[44.8,-10.3],[47,-10.4],[39,-10],[48,-9.5],[45,-9.7],[41,-7],[41.1,-7.5],[41.3,-5.5],[51.9,1.2],[55,1.6],[55,-4.6],[55,-5.5],[55,-8.2],[55.05,-8.1],[56.9,0.7],[57,-7],[45,-11.8],[45.1,-11.7],[45.05,-11.5]];
const dCbandCols = [
[20.3,-2.8,-3.6,-4.4,-5.2,-6,-6.8],
[20.7,-3.4,-4.2,-5,-5.8,-6.6],
[23.5,0,-0.8,-1.6,-2.4,-3.2,-4],
[23.7,0.8,0,-0.8,-1.6,-2.4,-3.2,-4],
[24,0.5,-0.3,-1.1,-1.9,-2.7,-3.5,-4.3,-4.8],
[24.2,0.2,-0.6,-1.4,-2.2,-3,-3.8,-4.6],
[24.5,-1,-1.8,-2.6,-3.4,-4.2,-5],
[24.6,-0.6,-1.4,-2.2,-3,-3.8,-4.6],
[25,4.5,3.7,2.9,2.1,1.3,0.5,-0.3,-1.1,-1.9,-2.7,-3.5,-4.3,-5.1],
[25.4,4.2,3.4,2.6,1.8,1,0.2,-0.6,-1.4,-2.2,-3,-3.8,-4.6,-5.3],
[24.8,4,3.2,2.4,1.6,0.8,0,-0.8,-1.6,-2.4,-3.2,-4,-4.8],
[25.7,3.8,3,2.2,1.4,0.6,-0.2,-1,-1.8,-2.6,-3.4,-4.2,-5],
[34.05,1,0.2,-0.6,-1.4,-2.2,-3,-3.8,-4.6,-5.4,-6.2],
[34.2,1.2,0.4,-0.4,-1.2,-2,-2.8,-3.6,-4.4,-5.2,-6,-6.8],
[34.6,1.4,0.6,-0.2,-1,-1.8,-2.6,-3.4,-4.2,-5,-5.8,-6.4],
[35,1.5,0.7,-0.1,-0.9,-1.7,-2.5,-3.3,-4.1,-4.9,-5.7],
[35.2,1,0.2,-0.6,-1.4,-2.2,-3,-3.8,-4.6],
[34.4,0.8,0,-0.8,-1.6,-2.4,-3.2,-4,-4.8,-5.6,-6.4],
[34.8,1,0.2,-0.6,-1.4,-2.2,-3,-3.8,-4.6,-5.4,-6.2],
[36,6,5.2,4.4,3.6,2.8,2,1.2,0.4,-0.4,-1.2,-2,-2.8,-3.6],
[37.1,-1,-1.8,-2.6,-3.4,-4.2,-5.2],
[37.6,-0.8,-1.6,-2.4,-3.2,-4,-4.8,-5.2],
[37.35,-1.2,-2,-2.8,-3.6,-4.4,-5],
[38.8,-3,-3.8,-4.6,-5.4,-6.2,-7,-7.8,-8.6,-9],
[39.2,-2.6,-3.4,-4.2,-5,-5.8,-6.6,-7.4,-8.2,-9],
[38.6,-2.8,-3.6,-4.4,-5.2,-6,-6.8,-7.6,-8.4],
[39.6,-3,-3.8,-4.6,-5.4,-6.2,-7,-7.8,-8.4],
[40,-1,-1.8,-2.6,-3.4,-4.2,-5,-5.8,-6.6,-7.4,-8.2],
[40.4,-1,-1.8,-2.6,-3.4,-4.2,-5,-5.8,-6.6,-7.4,-8.4],
[40.8,-3.6,-4.4,-5.2,-6,-6.8,-7.5],
[40.2,-1.4,-2.2,-3,-3.8,-4.6,-5.4,-6.2,-7,-7.8],
[42.8,1,0.2,-0.6,-1.4,-2.5],
[43,1.5,0.7,-0.1,-0.9,-1.7,-2.5,-3.3,-4.1,-4.9],
[43.3,-1,-1.8,-2.6,-3.4,-4.2,-5,-5.8,-6.6,-7],
[43.8,-2,-2.8,-3.6,-4.4,-5.2,-6,-6.8,-7.3],
[44.1,-1.6,-2.4,-3.2,-4,-4.8,-5.6,-6.4,-7.2],
[44.3,-1,-1.8,-2.6,-3.4,-4.2,-5,-5.8,-6.6,-7],
[44.8,-0.5,-1.3,-2.1,-2.9,-3.7,-4.5,-5.3,-6.1,-6.9,-7.7,-8.5,-9],
[45.1,0.5,-0.3,-1.1,-1.9,-2.7,-3.5,-4.3,-5.1,-5.9,-6.7,-7.5,-8.3,-9.1,-10],
[45.3,0.9,0.1,-0.7,-1.5,-2.3,-3.1,-3.9,-4.7,-5.5,-6.3,-7.1,-7.9,-8.7],
[47,-2,-2.8,-3.6,-4.4,-5.2,-6,-6.8,-7.6,-8.4,-9.2,-9.5],
[47.4,-2.5,-3.3,-4.1,-4.9,-5.7,-6.5,-7.3,-8.1,-8.9,-9.5],
[47.8,-5,-5.8,-6.6,-7.4,-8.2,-9],
[47.2,-2.9,-3.7,-4.5,-5.3,-6.1,-6.9,-7.7,-8.5,-9.3],
[50,-1,-1.8,-2.6,-3.4,-4.2,-5,-5.8,-6.6,-7],
[50.05,-1.4,-2.2,-3,-3.8,-4.6,-5.4,-6.2,-6.9],
[51.7,-1.2,-2,-2.8,-3.6,-4.4,-5.2,-5.8],
[51.85,-1.6,-2.4,-3.2,-4,-4.8,-5.6],
[52,-1.6,-2.4,-3.2,-4,-4.8,-5.6]];
const dXband = [[24.8,7.6],[30,6.2],[30,3.4],[30,2.2],[30,1.3],[30,0.3],[30,-1.2],[30,-1.9],[30,-2.5],[30,-3],[30,-4.9],[30,-6.4],[30,-6.8],[30,-6.9],[28.5,1.5],[28.5,1.1],[28.5,0.7],[28.4,0.3],[28.6,0.9],[25.7,-7],[24.8,-6.1],[35,6],[35,3],[34.9,-7.6],[34.9,-8.1],[35,-8.3],[36,-5],[42.8,4.7],[42.8,4.4],[42.85,4.5],[42.8,-5.7],[42.8,1.7],[48.7,-2],[48.7,-3.3],[49,-7.2],[48.6,-7.1],[49.8,0.5],[51.8,-0.6],[51.8,-5],[51.8,-4.2],[50,-4]];
const dXbandCols = [
[25.7,8,7.2,6.4,5.6,4.8,4,3.2,2.4,1.6,0.8,0,-0.8,-1.6,-2.4,-3.2,-4,-4.8,-5.6],
[26,10.6,9.6,8.9,8.1,7.3,6.5,5.7,4.9,4.1,3.3,2.5,1.7,0.9,0.1,-0.7,-1.5,-2.3,-3.1,-3.9,-4.7,-5.4],
[26.1,8.5,7.7,6.9,6.1,5.3,4.5,3.7,2.9,2.1,1.3,0.5,-0.3,-1.1,-1.9,-2.7,-3.5,-4.3,-5.1],
[25.85,9.2,8.4,7.6,6.8,6,5.2,4.4,3.6,2.8,2,1.2,0.4,-0.4,-1.2,-2,-2.8,-3.6,-4.4],
[35.9,9,8.2,7.4,6.6,5.8,5,4.2,3.4,2.6,1.8,1,0.2,-0.6,-1.4,-2.2,-3,-3.8],
[36.2,8.8,8,7.2,6.4,5.6,4.8,4,3.2,2.4,1.6,0.8,0,-0.8,-1.6,-2.4,-3.2,-4],
[36.05,8.4,7.6,6.8,6,5.2,4.4,3.6,2.8,2,1.2,0.4,-0.4,-1.2,-2,-2.8,-3.6]];

/* ---------- helpers ---------- */
const SVGNS = 'http://www.w3.org/2000/svg';
const fromRows = list => list.flatMap(r => r.slice(1).map(x => [x, r[0]]));
const fromCols = list => list.flatMap(c => c.slice(1).map(y => [c[0], y]));
const scale = (min, max, a, b) => v => a + (v - min) / (max - min) * (b - a);

function svgEl(tag, attrs) {
  const el = document.createElementNS(SVGNS, tag);
  for (const k in attrs) el.setAttribute(k, attrs[k]);
  return el;
}

function stretchLabel(l, opts) {
  if (!opts.stretch) return;
  const w = l.getComputedTextLength();
  l.setAttribute('textLength', w * opts.stretch);
  l.setAttribute('lengthAdjust', 'spacingAndGlyphs');
}

function drawPanel(id, box, xTicks, yTicks, series, opts) {
  const root = document.getElementById(id);
  const sx = scale(xTicks[0], xTicks[xTicks.length - 1], box.left, box.right);
  const sy = scale(yTicks[0], yTicks[yTicks.length - 1], box.bottom, box.top);

  const ax = svgEl('path', {
    d: `M${box.left} ${box.top}V${box.bottom}H${box.right}`,
    fill: 'none', stroke: '#999', 'stroke-width': 3
  });
  
  
  root.appendChild(ax);

  yTicks.forEach(v => {
    const y = sy(v);
    const t = svgEl('line', { x1: box.left - box.tick, x2: box.left, y1: y, y2: y, stroke: '#999', 'stroke-width': 3 });
    
    
    root.appendChild(t);
    const l = svgEl('text', { x: box.yLabelX, y: y + opts.fontSize * 0.36, 'text-anchor': 'end', 'font-size': opts.fontSize });
    l.textContent = String(v);
    
    
    root.appendChild(l);
    stretchLabel(l, opts);
  });
  xTicks.forEach(v => {
    const x = sx(v);
    const t = svgEl('line', { x1: x, x2: x, y1: box.bottom, y2: box.bottom + box.tick, stroke: '#999', 'stroke-width': 3 });
    
    
    root.appendChild(t);
    const l = svgEl('text', { x: x, y: box.xLabelY + opts.fontSize * 0.36, 'text-anchor': 'middle', 'font-size': opts.fontSize });
    l.textContent = String(v);
    
    
    root.appendChild(l);
    stretchLabel(l, opts);
  });

  if (opts.identity) {
    const ln = svgEl('line', { x1: sx(-30), y1: sy(-30), x2: sx(opts.identity), y2: sy(opts.identity), stroke: '#777', 'stroke-width': 3 });
    
    
    root.appendChild(ln);
  } else {
    const z = svgEl('line', { x1: box.left - box.tick, y1: sy(0), x2: box.right, y2: sy(0), stroke: '#222', 'stroke-width': 2.5, 'stroke-dasharray': '7 5' });
    
    
    root.appendChild(z);
  }

  const gL = svgEl('g', { fill: 'none', stroke: '#000', 'stroke-width': 6 });
  
  
  series.L.forEach(p => {
    const m = svgEl('circle', { cx: sx(p[0]), cy: sy(p[1]), r: 9.5 });
    
    
    gL.appendChild(m);
  });
  root.appendChild(gL);

  const gC = svgEl('g', { fill: 'none', stroke: '#000', 'stroke-width': 6, 'stroke-linejoin': 'miter' });
  
  
  series.C.forEach(p => {
    const x = sx(p[0]), y = sy(p[1]);
    const m = svgEl('path', { d: `M${x} ${y - 8.5}L${x + 7.5} ${y + 5.5}H${x - 7.5}Z` });
    
    
    gC.appendChild(m);
  });
  root.appendChild(gC);

  const gX = svgEl('g', { fill: 'none', stroke: '#000', 'stroke-width': 7 });
  
  
  series.X.forEach(p => {
    const x = sx(p[0]), y = sy(p[1]);
    const m = svgEl('path', { d: `M${x - 9.5} ${y - 9.5}L${x + 9.5} ${y + 9.5}M${x + 9.5} ${y - 9.5}L${x - 9.5} ${y + 9.5}` });
    
    
    gX.appendChild(m);
  });
  root.appendChild(gX);
}

drawPanel('panel-a',
  { left: 388, right: 1216, top: 95, bottom: 862, tick: 24, yLabelX: 318, xLabelY: 957 },
  aXTicks, aYTicks,
  { L: aLband, C: aCband.concat(fromRows(aCbandRows)), X: aXband.concat(fromRows(aXbandRows)) },
  { fontSize: 57, stretch: 1.14, identity: 4.8 });

drawPanel('panel-b',
  { left: 1722, right: 2820, top: 45, bottom: 894, tick: 22, yLabelX: 1653, xLabelY: 985 },
  bXTicks, bYTicks,
  { L: bLband, C: bCband.concat(fromRows(bCbandRows)), X: bXband.concat(fromRows(bXbandRows)) },
  { fontSize: 57 });

drawPanel('panel-c',
  { left: 299, right: 1363, top: 1248, bottom: 2054, tick: 22, yLabelX: 231, xLabelY: 2146 },
  cXTicks, cYTicks,
  { L: cLband, C: cCband.concat(fromRows(cCbandRows)), X: cXband.concat(fromRows(cXbandRows)) },
  { fontSize: 59 });

drawPanel('panel-d',
  { left: 1727, right: 2815, top: 1247, bottom: 2067, tick: 22, yLabelX: 1662, xLabelY: 2154 },
  dXTicks, dYTicks,
  { L: dLband.concat(fromCols(dLbandCols)), C: dCband.concat(fromCols(dCbandCols)), X: dXband.concat(fromCols(dXbandCols)) },
  { fontSize: 59 });
</script>
</body>
</html>
